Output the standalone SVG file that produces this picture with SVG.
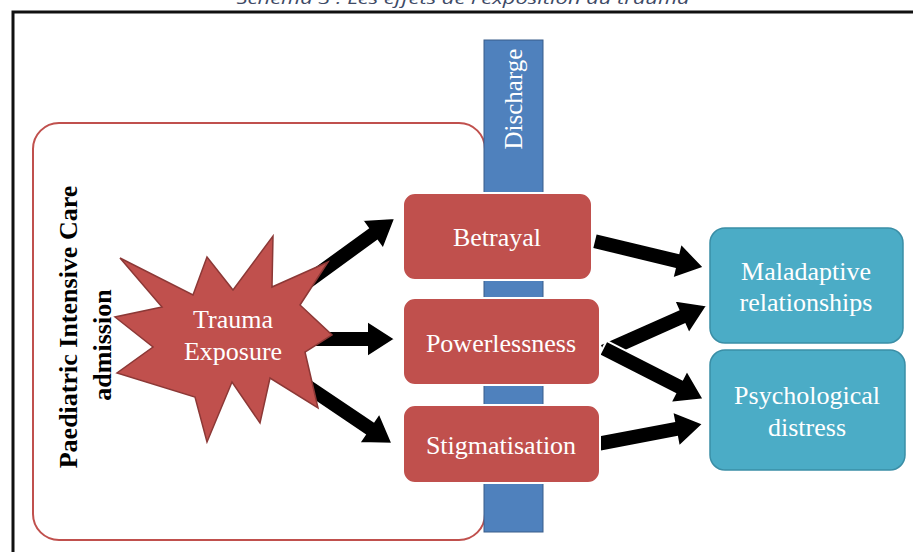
<svg xmlns="http://www.w3.org/2000/svg" width="913" height="552" viewBox="0 0 913 552">
<style>
.serif{font-family:"Liberation Serif","Times New Roman",serif;}
.wt{fill:#ffffff;font-size:26px;text-anchor:middle;}
.red{fill:#c0504d;stroke:#ffffff;stroke-width:2;}
.teal{fill:#4bacc6;stroke:#3a8ea6;stroke-width:1.5;}
.arr{fill:#000000;stroke:#ffffff;stroke-width:2;stroke-linejoin:miter;}
</style>
<rect x="0" y="0" width="913" height="552" fill="#ffffff"/>
<g id="caption">
<text x="463" y="4" font-family="'Open Sans','Liberation Sans',sans-serif" font-style="italic" font-size="17" fill="#3e4a66" text-anchor="middle" textLength="453" lengthAdjust="spacingAndGlyphs">Schéma 3 : Les effets de l'exposition au trauma</text>
</g>
<g id="frame">
<path d="M13,552 L13,12 L913,12" fill="none" stroke="#111111" stroke-width="3"/>
</g>
<g id="picu">
<rect x="33" y="123" width="452" height="417" rx="26" ry="26" fill="#ffffff" stroke="#c0504d" stroke-width="2"/>
<text class="serif" transform="translate(77,327) rotate(-90)" text-anchor="middle" font-size="26" font-weight="bold" fill="#000000">Paediatric Intensive Care</text>
<text class="serif" transform="translate(111,345) rotate(-90)" text-anchor="middle" font-size="26" font-weight="bold" fill="#000000">admission</text>
</g>
<g id="discharge">
<rect x="484" y="40" width="59" height="492" fill="#4f81bd" stroke="#385d8a" stroke-width="1"/>
<text class="serif" transform="translate(522,99) rotate(-90)" text-anchor="middle" font-size="25" fill="#ffffff">Discharge</text>
</g>
<g id="connectors">
<path class="arr" transform="translate(303,285) rotate(-36)" d="M0,-8 L86,-8 L86,-18 L114,0 L86,18 L86,8 L0,8 Z"/>
<path class="arr" transform="translate(300,339) rotate(0)" d="M0,-8 L67,-8 L67,-18 L95,0 L67,18 L67,8 L0,8 Z"/>
<path class="arr" transform="translate(298,380) rotate(34)" d="M0,-8 L86,-8 L86,-18 L114,0 L86,18 L86,8 L0,8 Z"/>
<path class="arr" transform="translate(594,241) rotate(13.5)" d="M0,-8 L85,-8 L85,-18 L113,0 L85,18 L85,8 L0,8 Z"/>
<path class="arr" transform="translate(603,352) rotate(-24)" d="M0,-8 L86,-8 L86,-18 L114,0 L86,18 L86,8 L0,8 Z"/>
<path class="arr" transform="translate(603,348) rotate(27)" d="M0,-8 L85,-8 L85,-18 L113,0 L85,18 L85,8 L0,8 Z"/>
<path class="arr" transform="translate(597,444) rotate(-10.7)" d="M0,-8 L80,-8 L80,-18 L108,0 L80,18 L80,8 L0,8 Z"/>
</g>
<g id="trauma">
<polygon points="120,258 193,295 207,257 233,290 273,236 272,287 328,262 300,305 332,335 305,352 318,408 270,378 260,423 232,382 207,442 195,397 117,373 153,347 115,317 162,307" fill="#c0504d" stroke="#8c3836" stroke-width="1.5" stroke-linejoin="miter"/>
<text class="serif wt" x="233" y="328">Trauma</text>
<text class="serif wt" x="233" y="360">Exposure</text>
</g>
<g id="betrayal">
<rect class="red" x="403" y="193" width="189" height="87" rx="12" ry="12"/>
<text class="serif wt" x="497" y="246">Betrayal</text>
</g>
<g id="powerlessness">
<rect class="red" x="403" y="298" width="197" height="87" rx="12" ry="12"/>
<text class="serif wt" x="501" y="352">Powerlessness</text>
</g>
<g id="stigmatisation">
<rect class="red" x="403" y="405" width="197" height="78" rx="12" ry="12"/>
<text class="serif wt" x="501" y="454">Stigmatisation</text>
</g>
<g id="maladaptive">
<rect class="teal" x="710" y="228" width="193" height="115" rx="15" ry="15"/>
<text class="serif wt" x="806" y="280">Maladaptive</text>
<text class="serif wt" x="806" y="311">relationships</text>
</g>
<g id="psychological">
<rect class="teal" x="710" y="350" width="195" height="120" rx="15" ry="15"/>
<text class="serif wt" x="807" y="404">Psychological</text>
<text class="serif wt" x="807" y="436">distress</text>
</g>
</svg>
